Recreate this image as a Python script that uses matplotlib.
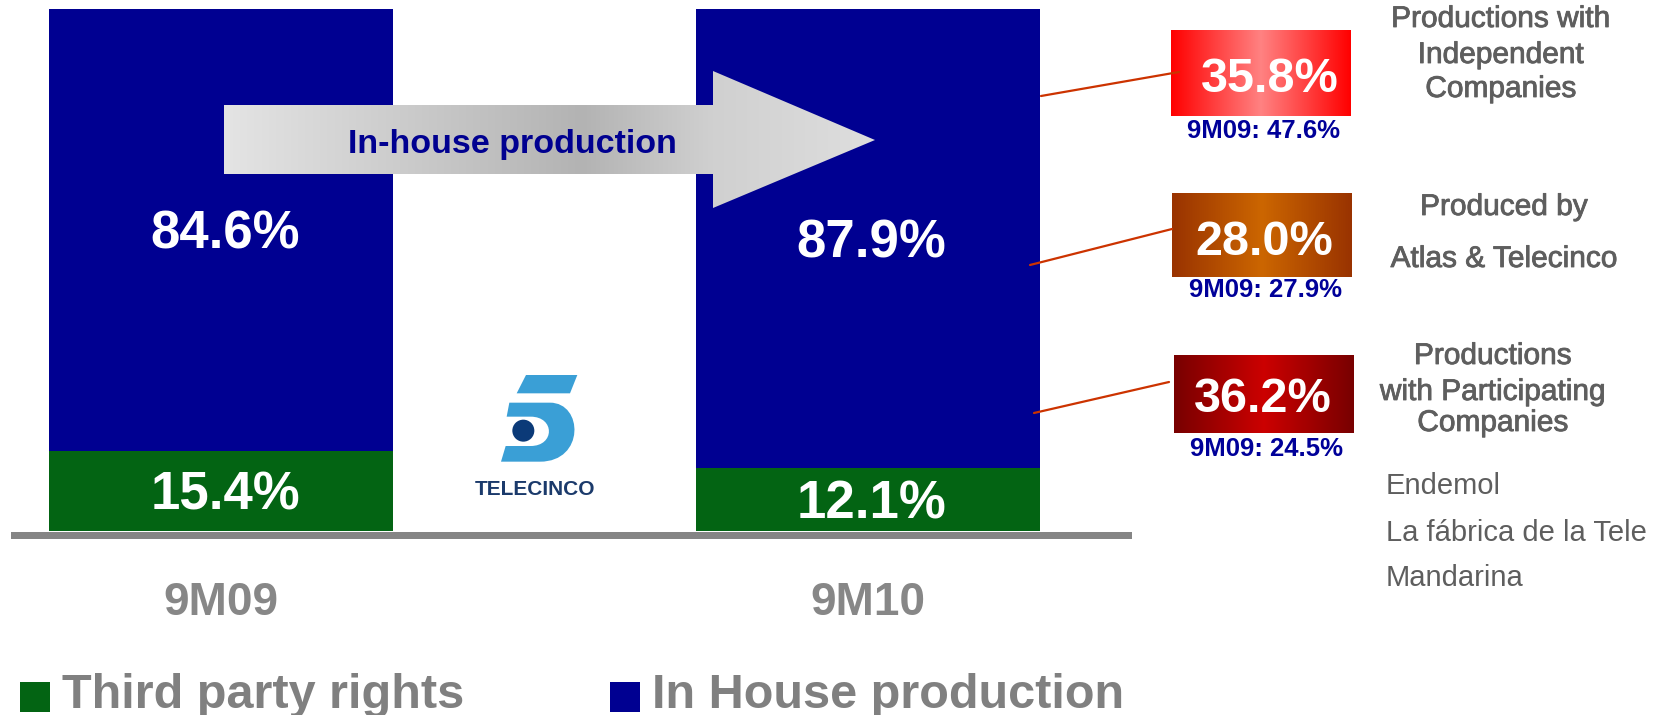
import numpy as np
import matplotlib
matplotlib.use('Agg')
import matplotlib.pyplot as plt
import matplotlib.transforms as mtransforms
import matplotlib.patheffects as pe
from matplotlib.patches import Rectangle, Polygon, PathPatch, Circle
from matplotlib.path import Path
from matplotlib.colors import LinearSegmentedColormap

plt.rcParams['font.family'] = ['Liberation Sans', 'DejaVu Sans']

# programming mix by period
periods = ['9M09', '9M10']
third_party = [15.4, 12.1]
in_house = [84.6, 87.9]

# breakdown of 9M10 in-house production, with 9M09 comparison
seg_share = [35.8, 28.0, 36.2]
seg_prev = [47.6, 27.9, 24.5]
seg_titles = [
    ['Productions with', 'Independent', 'Companies'],
    ['Produced by', 'Atlas & Telecinco'],
    ['Productions', 'with Participating', 'Companies'],
]
partners = ['Endemol', 'La fábrica de la Tele', 'Mandarina']

BLUE = '#000091'
GREEN = '#036413'
GREY = '#858585'
TEXT_GREY = '#5e5e5e'
NAVY_TEXT = '#000099'

W, H = 1669, 715
fig = plt.figure(figsize=(W / 100, H / 100), dpi=100)

# --- stacked bars ---
ax = fig.add_axes([11 / W, (H - 531) / H, 1121 / W, 522 / H])
x = np.arange(len(periods))
bar_w = 0.532
ax.bar(x, third_party, width=bar_w, color=GREEN, linewidth=0)
ax.bar(x, in_house, width=bar_w, bottom=third_party, color=BLUE, linewidth=0)
ax.set_xlim(-0.3248, 1.409)
ax.set_ylim(0, 100)
ax.axis('off')

half_cap = 0.716 * 38 / 2
for i in range(len(periods)):
    mids = [third_party[i] / 2, third_party[i] + in_house[i] / 2]
    for val, mid in zip([third_party[i], in_house[i]], mids):
        ax.annotate(f'{val:.1f}%', xy=(i, mid), xytext=(3, -half_cap),
                    textcoords='offset points', ha='center', va='baseline',
                    fontsize=38, fontweight='bold', color='white')

# --- overlay in pixel coordinates for decorations ---
ov = fig.add_axes([0, 0, 1, 1], zorder=5)
ov.patch.set_alpha(0)
ov.axis('off')


def gradient_fill(x0, x1, y0, y1, stops, clip=None, z=2):
    cmap = LinearSegmentedColormap.from_list('g', stops)
    img = ov.imshow(np.linspace(0, 1, 256)[None, :], cmap=cmap,
                    extent=(x0, x1, y1, y0), aspect='auto',
                    interpolation='bicubic', zorder=z)
    if clip is not None:
        img.set_clip_path(clip)
    return img


# baseline under the bars
ov.add_patch(Rectangle((11, 532), 1121, 7, color=GREY, lw=0))

# period labels below each bar
lab_tr = mtransforms.blended_transform_factory(ax.transData, ov.transData)
for i, p in enumerate(periods):
    ov.text(i, 615, p, transform=lab_tr, ha='center', va='baseline',
            fontsize=33, fontweight='bold', color='#878787')

# big arrow across the bars
arrow_pts = [(224, 105), (713, 105), (713, 71), (875, 140),
             (713, 208), (713, 174), (224, 174)]
arrow = Polygon(arrow_pts, closed=True, facecolor='none', edgecolor='none')
ov.add_patch(arrow)
gradient_fill(224, 875, 71, 208,
              [(0, '#e4e4e4'), (0.55, '#b3b3b3'), (0.75, '#d0d0d0'), (1, '#dedede')],
              clip=arrow)
ov.text(512, 153, 'In-house production', ha='center', va='baseline',
        fontsize=24.5, fontweight='bold', color='#000090', zorder=3)

# breakdown boxes
boxes = [(1171, 30, 1351, 116), (1172, 193, 1352, 277), (1174, 355, 1354, 433)]
box_stops = [
    [(0, '#ff0000'), (0.5, '#ff8282'), (1, '#ff0000')],
    [(0, '#993300'), (0.5, '#cc6600'), (1, '#993300')],
    [(0, '#780000'), (0.5, '#cc0000'), (1, '#780000')],
]
value_pos = [(1270, 92), (1264, 255), (1263, 412)]
prev_pos = [(1263, 138), (1265, 297), (1266, 456)]
for (x0, y0, x1, y1), stops, share, prev, vp, pp in zip(
        boxes, box_stops, seg_share, seg_prev, value_pos, prev_pos):
    rect = Rectangle((x0, y0), x1 - x0, y1 - y0, facecolor='none', edgecolor='none')
    ov.add_patch(rect)
    gradient_fill(x0, x1, y0, y1, stops, clip=rect)
    ov.text(vp[0], vp[1], f'{share:.1f}%', ha='center', va='baseline',
            fontsize=35, fontweight='bold', color='white', zorder=3)
    ov.text(pp[0], pp[1], f'9M09: {prev:.1f}%', ha='center', va='baseline',
            fontsize=18.5, fontweight='bold', color=NAVY_TEXT, zorder=3)

# connectors from the 9M10 bar to the boxes
links = [((1041, 96), (1179, 72)), ((1030, 265), (1172, 229)), ((1034, 413), (1169, 382))]
for (xa, ya), (xb, yb) in links:
    ov.plot([xa, xb], [ya, yb], color='#cc3300', lw=1.6, solid_capstyle='round', zorder=4)

# segment descriptions (headings slightly heavier than plain regular weight)
heavy = [pe.withStroke(linewidth=0.6, foreground=TEXT_GREY)]
title_x = [1501, 1504, 1493]
title_base = [[27, 63, 97], [215, 267], [364, 400, 431]]
for lines, tx, bases in zip(seg_titles, title_x, title_base):
    for line, by in zip(lines, bases):
        ov.text(tx, by, line, ha='center', va='baseline', fontsize=21.5,
                color=TEXT_GREY, path_effects=heavy)
for name, by in zip(partners, [494, 541, 586]):
    ov.text(1386, by, name, ha='left', va='baseline', fontsize=21,
            color=TEXT_GREY)

# legend
ov.add_patch(Rectangle((20, 682), 30, 30, color=GREEN, lw=0))
ov.text(62, 708, 'Third party rights', ha='left', va='baseline',
        fontsize=35, fontweight='bold', color='#808080')
ov.add_patch(Rectangle((610, 682), 30, 30, color=BLUE, lw=0))
ov.text(652, 708, 'In House production', ha='left', va='baseline',
        fontsize=35, fontweight='bold', color='#808080')


# Telecinco logo
def lp(zx, zy):
    return (440 + zx / 3, 360 + zy / 3)


LOGO_BLUE = '#3a9fd6'
top = Polygon([lp(258, 45), lp(412, 45), lp(390, 100), lp(230, 100)],
              closed=True, color=LOGO_BLUE, lw=0)
ov.add_patch(top)
verts = [lp(208, 128), lp(330, 128),
         lp(430, 128), lp(435, 305), lp(300, 305),
         lp(183, 305), lp(197, 258), lp(272, 258),
         lp(345, 258), lp(345, 170), lp(272, 170),
         lp(200, 170), lp(208, 128)]
codes = [Path.MOVETO, Path.LINETO,
         Path.CURVE4, Path.CURVE4, Path.CURVE4,
         Path.LINETO, Path.LINETO, Path.LINETO,
         Path.CURVE4, Path.CURVE4, Path.CURVE4,
         Path.LINETO, Path.CLOSEPOLY]
ov.add_patch(PathPatch(Path(verts, codes), color=LOGO_BLUE, lw=0))
ov.add_patch(Circle(lp(250, 212), 11, color='#0b3a78', lw=0))
ov.text(535, 495, 'TELECINCO', ha='center', va='baseline', fontsize=15,
        fontweight='bold', color='#1b3a6b')

ov.set_xlim(0, W)
ov.set_ylim(H, 0)

fig.savefig('out.png', dpi=100)
